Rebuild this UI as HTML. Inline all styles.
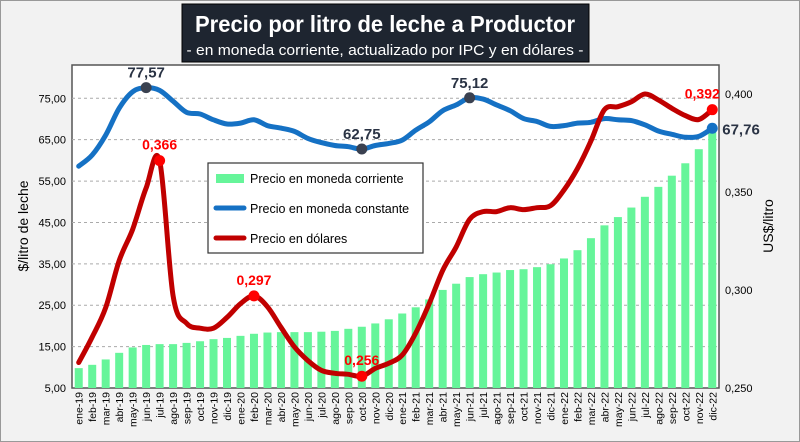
<!DOCTYPE html>
<html><head><meta charset="utf-8"><style>
body{margin:0;background:#f2f2f2;}
svg{display:block;font-family:"Liberation Sans",sans-serif;}
</style></head><body>
<svg id="chart" width="800" height="442" viewBox="0 0 800 442">
<rect x="0.5" y="0.5" width="799" height="441" fill="#f2f2f2" stroke="#999"/>
<rect x="182" y="4" width="407" height="58" fill="#1e2530" stroke="#000"/>
<text x="385" y="32" text-anchor="middle" fill="#fff" font-size="23" font-weight="bold" textLength="380" lengthAdjust="spacingAndGlyphs">Precio por litro de leche a Productor</text>
<text x="385" y="55" text-anchor="middle" fill="#fff" font-size="15" textLength="397" lengthAdjust="spacingAndGlyphs">- en moneda corriente, actualizado por IPC y en dólares -</text>
<rect x="72" y="65" width="647" height="323" fill="#fff" stroke="#555" stroke-width="1.5"/>
<g id="grid"></g><g id="bars"></g><g id="lines"></g><g id="axes"></g>
<text transform="translate(28,226) rotate(-90)" text-anchor="middle" font-size="14" fill="#000">$/litro de leche</text>
<text transform="translate(773,226) rotate(-90)" text-anchor="middle" font-size="14" fill="#000">US$/litro</text>
<g>
<rect x="208" y="163" width="215" height="90" fill="#fff" stroke="#333" stroke-width="1.2"/>
<rect x="216" y="174" width="28" height="9" fill="#66f59a"/>
<text x="250" y="183" font-size="12.5">Precio en moneda corriente</text>
<line x1="216" y1="208" x2="244" y2="208" stroke="#1571c4" stroke-width="5" stroke-linecap="round"/>
<text x="250" y="213" font-size="12.5">Precio en moneda constante</text>
<line x1="216" y1="238" x2="244" y2="238" stroke="#c00000" stroke-width="5" stroke-linecap="round"/>
<text x="250" y="243" font-size="12.5">Precio en dólares</text>
</g>
</svg>
<script>
const months = ["ene","feb","mar","abr","may","jun","jul","ago","sep","oct","nov","dic"];
const categories = [];
for (const y of ["19","20","21","22"]) for (const m of months) categories.push(m + "-" + y);
const corriente = [9.8,10.6,11.9,13.5,14.8,15.4,15.6,15.6,15.9,16.3,16.8,17.1,17.6,18.1,18.4,18.5,18.5,18.5,18.6,18.8,19.3,19.8,20.6,21.6,23.0,24.5,26.4,28.7,30.2,31.8,32.5,32.9,33.5,33.7,34.2,34.9,36.3,38.3,41.2,44.3,46.3,48.6,51.2,53.6,56.3,59.3,62.7,66.8];
const constante = [58.6,61.3,66.1,72.6,76.6,77.57,76.9,74.3,71.6,71.2,69.8,68.8,69.0,69.8,68.4,67.8,67.0,65.3,64.3,63.6,63.3,62.75,63.6,64.1,64.9,67.3,69.3,72.0,73.4,75.12,74.8,73.4,72.0,70.1,69.4,68.2,68.4,69.0,69.2,70.1,69.8,69.6,68.6,67.1,66.3,65.6,65.8,67.76];
const dolares = [0.263,0.276,0.291,0.315,0.331,0.352,0.366,0.297,0.283,0.2805,0.2805,0.286,0.293,0.297,0.2915,0.281,0.271,0.264,0.259,0.2575,0.257,0.256,0.260,0.2626,0.2668,0.278,0.293,0.310,0.322,0.336,0.340,0.340,0.342,0.341,0.342,0.343,0.351,0.362,0.376,0.392,0.3935,0.396,0.400,0.397,0.3927,0.389,0.387,0.392];
const leftTicks = [5,15,25,35,45,55,65,75];
const rightTicks = [0.25,0.30,0.35,0.40];
const constLabels = [[5,"77,57"],[21,"62,75"],[29,"75,12"],[47,"67,76"]];
const dolLabels = [[6,"0,366"],[13,"0,297"],[21,"0,256"],[47,"0,392"]];

const NS="http://www.w3.org/2000/svg";
const X0=72, X1=719, Y0=388, YT=65;
const step=(X1-X0)/categories.length;
const xc=i=>X0+step*(i+0.5);
const yL=v=>Y0-(v-5)*(Y0-98.3)/70;
const yR=v=>Y0-(v-0.25)*1960;
function mk(tag,attrs,parent){const e=document.createElementNS(NS,tag);for(const k in attrs)e.setAttribute(k,attrs[k]);parent.appendChild(e);return e;}
const grid=document.getElementById('grid'),bars=document.getElementById('bars'),lines=document.getElementById('lines'),axes=document.getElementById('axes');
leftTicks.forEach(t=>{
  if(t>5){const g=mk('line',{x1:X0,x2:X1,y1:yL(t),y2:yL(t),stroke:'#aaa','stroke-dasharray':'3,3'},grid);
  
  }
  const tx=mk('text',{x:66,y:yL(t)+4,'text-anchor':'end','font-size':'11'},axes);
  tx.textContent=t.toFixed(2).replace('.',',');
  
  
});
rightTicks.forEach(t=>{
  const tx=mk('text',{x:725,y:yR(t)+4,'font-size':'11'},axes);
  tx.textContent=t.toFixed(3).replace('.',',');
  
  
});
categories.forEach((c,i)=>{
  const b=mk('rect',{x:xc(i)-4,y:yL(corriente[i]),width:8,height:Y0-yL(corriente[i]),fill:'#66f59a'},bars);
  
  
  const tx=mk('text',{transform:`translate(${xc(i)+4},${Y0+4}) rotate(-90)`,'text-anchor':'end','font-size':'10.5'},axes);
  tx.textContent=c;
  
  
});
function path(vals,fy){
  const p=vals.map((v,i)=>[xc(i),fy(v)]);
  let d='M'+p[0][0].toFixed(1)+','+p[0][1].toFixed(1);
  for(let i=0;i<p.length-1;i++){
    const p0=p[Math.max(0,i-1)],p1=p[i],p2=p[i+1],p3=p[Math.min(p.length-1,i+2)];
    const c1=[p1[0]+(p2[0]-p0[0])/6,p1[1]+(p2[1]-p0[1])/6];
    const c2=[p2[0]-(p3[0]-p1[0])/6,p2[1]-(p3[1]-p1[1])/6];
    d+=` C${c1[0].toFixed(1)},${c1[1].toFixed(1)} ${c2[0].toFixed(1)},${c2[1].toFixed(1)} ${p2[0].toFixed(1)},${p2[1].toFixed(1)}`;
  }
  return d;
}
const pc=mk('path',{d:path(constante,yL),fill:'none',stroke:'#1571c4','stroke-width':5,'stroke-linejoin':'round','stroke-linecap':'round'},lines);


const pd=mk('path',{d:path(dolares,yR),fill:'none',stroke:'#c00000','stroke-width':5,'stroke-linejoin':'round','stroke-linecap':'round'},lines);


constLabels.forEach(([i,l])=>{
  const last=i===categories.length-1;
  const m=mk('circle',{cx:xc(i),cy:yL(constante[i]),r:5.5,fill:last?'#1571c4':'#3a4150'},lines);
  
  
  const t=mk('text',{x:last?xc(i)+10:xc(i),y:last?yL(constante[i])+6:yL(constante[i])-10,'text-anchor':last?'start':'middle','font-size':'15','font-weight':'bold',fill:'#2a3344'},lines);
  t.textContent=l;
  
  
});
dolLabels.forEach(([i,l])=>{
  const m=mk('circle',{cx:xc(i),cy:yR(dolares[i]),r:5.5,fill:'#ff0000'},lines);
  
  
  const last=i===categories.length-1;
  const t=mk('text',{x:last?xc(i)-10:xc(i),y:yR(dolares[i])-11,'text-anchor':'middle','font-size':'14','font-weight':'bold',fill:'#ff0000'},lines);
  t.textContent=l;
  
  
});
</script>
</body></html>
